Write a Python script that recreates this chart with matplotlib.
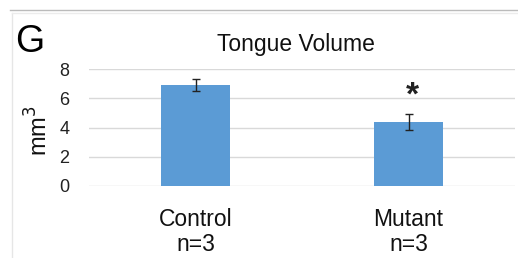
import matplotlib.pyplot as plt
from matplotlib.lines import Line2D

plt.rcParams['font.family'] = ['Liberation Sans', 'DejaVu Sans']

groups = ['Control\nn=3', 'Mutant\nn=3']
volume = [6.9, 4.35]
err = [0.4, 0.55]
y_ticks = [0, 2, 4, 6, 8]

W, H = 518, 258
fig = plt.figure(figsize=(W / 100, H / 100), dpi=100)
ax = fig.add_axes([89 / W, 1 - 186 / H, (515 - 89) / W, (186 - 69) / H])

x = [0, 1]
ax.bar(x, volume, width=0.32, color='#5b9bd5', zorder=3)
ax.errorbar(x, volume, yerr=err, fmt='none', ecolor='#222222', elinewidth=1,
            capsize=3, capthick=1, zorder=4)
ax.text(1.02, volume[1] + err[1] + 1.25, '*', ha='center', va='center',
        fontsize=24, fontweight='bold', color='#222222')

ax.set_xlim(-0.5, 1.5)
ax.set_ylim(0, 8)
ax.set_yticks(y_ticks)
ax.grid(axis='y', color='#d9d9d9', linewidth=1, zorder=0)
for s in ax.spines.values():
    s.set_visible(False)
ax.tick_params(length=0)
ax.tick_params(axis='y', labelsize=13, pad=14, colors='#222222')
ax.set_xticks(x)
ax.set_xticklabels(groups, fontsize=16.5, linespacing=1.1, color='#111111')
ax.tick_params(axis='x', pad=16)
ax.set_ylabel('mm$^3$', fontsize=17, color='#111111')
ax.yaxis.set_label_coords(-0.085, 0.47)

fig.text(296 / W, 1 - 44 / H, 'Tongue Volume', ha='center', va='center',
         fontsize=16.5, color='#111111')
fig.text(15 / W, 1 - 42 / H, 'G', ha='left', va='center', fontsize=27,
         color='#000000')

fig.add_artist(Line2D([10 / W, 1], [1 - 10 / H, 1 - 10 / H], color='#bbbbbb', lw=1))
fig.add_artist(Line2D([12 / W, 12 / W], [0, 1 - 13 / H], color='#e6e6e6', lw=1))
fig.add_artist(Line2D([12 / W, 1], [1 - 13 / H, 1 - 13 / H], color='#ececec', lw=1))

fig.savefig('out.png', dpi=100)
